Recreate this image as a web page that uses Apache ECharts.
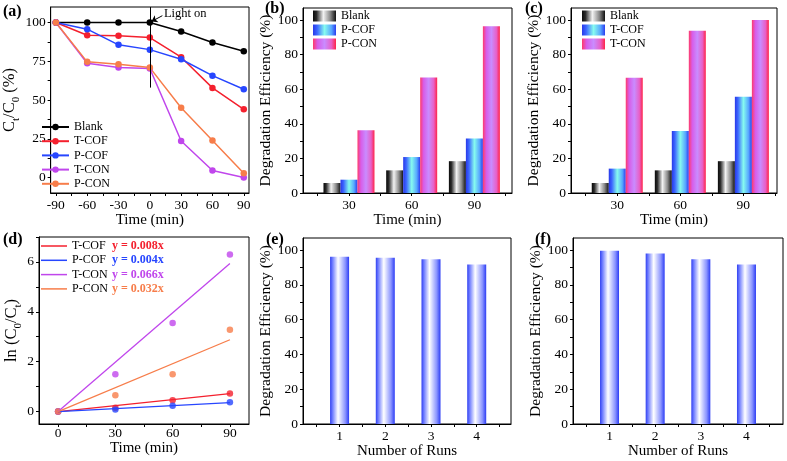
<!DOCTYPE html>
<html><head><meta charset="utf-8">
<script src="https://cdn.jsdelivr.net/npm/echarts@6/dist/echarts.min.js"></script>
<style>html,body{margin:0;padding:0;background:#fff}#c{width:787px;height:461px}</style>
</head><body><div id="c"></div>
<script>
// ---------- data ----------
// (a) Ct/C0 (%) vs time
const timeA = [-90, -60, -30, 0, 30, 60, 90];
const blankA = [100, 100, 100, 100, 94.2, 87.1, 81.4];
const tcofA  = [100, 91.8, 91.4, 90.3, 77.6, 57.8, 44.0];
const pcofA  = [100, 95.7, 85.6, 82.5, 76.3, 65.7, 56.9];
const tconA  = [100, 73.7, 70.9, 70.3, 23.5, 4.5, 0.0];
const pconA  = [100, 74.6, 73.1, 70.9, 45.0, 23.9, 2.8];
const xLabelsA = [-90, -60, -30, 0, 30, 60, 90];
const xTicksA = [-90, -75, -60, -45, -30, -15, 0, 15, 30, 45, 60, 75, 90];
const yLabelsA = [0, 25, 50, 75, 100];
const yTicksA = [0, 12.5, 25, 37.5, 50, 62.5, 75, 87.5, 100];
const lightOnX = 0;
const lightLineBottom = 58;
const lightText = 'Light on';

// (b) degradation efficiency
const timeB = [30, 60, 90];
const blankB = [5.8, 13.1, 18.4];
const pcofB  = [7.7, 20.8, 31.5];
const pconB  = [36.3, 66.8, 96.5];
// (c)
const blankC = [5.8, 13.1, 18.4];
const tcofC  = [14.1, 35.9, 55.6];
const tconC  = [66.6, 93.8, 100.0];
const xLabelsBC = [30, 60, 90];
const xTicksBC = [15, 30, 45, 60, 75, 90, 105];
const yLabelsEff = [0, 20, 40, 60, 80, 100];
const yTicksEff = [0, 10, 20, 30, 40, 50, 60, 70, 80, 90, 100];

// (d) ln(C0/Ct)
const timeD = [0, 30, 60, 90];
const tcofD = [0, 0.15, 0.45, 0.72];
const pcofD = [0, 0.08, 0.23, 0.37];
const tconD = [0, 1.50, 3.55, 6.30];
const pconD = [0, 0.65, 1.50, 3.28];
const fitX = [0, 90];
const tcofFit = [0, 0.72];
const pcofFit = [0, 0.36];
const tconFit = [0, 5.94];
const pconFit = [0, 2.88];
const slopes = ['0.008', '0.004', '0.066', '0.032'];
const xLabelsD = [0, 30, 60, 90];
const xTicksD = [0, 15, 30, 45, 60, 75, 90];
const yLabelsD = [0, 2, 4, 6];
const yTicksD = [0, 1, 2, 3, 4, 5, 6, 7];

// (e),(f) recycling runs
const runs = [1, 2, 3, 4];
const runsE = [96.2, 95.6, 94.8, 91.8];
const runsF = [99.6, 98.1, 94.8, 91.8];
const xLabelsEF = [1, 2, 3, 4];
const xTicksEF = [0.5, 1, 1.5, 2, 2.5, 3, 3.5, 4, 4.5];

// ---------- style ----------
const FONT = '"Liberation Serif", "Times New Roman", serif';
const C = { blank: '#000000', tcof: '#f4202e', pcof: '#2746ff', tcon: '#c046ec', pcon: '#f77d4a' };
const strip = n => n.slice(n.indexOf(':') + 1);
const zip = (xs, ys) => xs.map((x, i) => [x, ys[i]]);
const grad = stops => ({ type: 'linear', x: 0, y: 0, x2: 1, y2: 0, colorStops: stops.map(s => ({ offset: s[0], color: s[1] })) });
const gBlank = grad([[0, '#0a0a0a'], [0.15, '#2a2a2a'], [0.45, '#f2f2f2'], [0.75, '#8a8a8a'], [1, '#111111']]);
const gCOF = grad([[0, '#2838e8'], [0.18, '#3c66ff'], [0.5, '#86fbef'], [0.8, '#58a8ff'], [1, '#2a3cf0']]);
const gCON = grad([[0, '#ff3a6a'], [0.2, '#d85ce8'], [0.5, '#c98cff'], [0.8, '#e860c8'], [1, '#ff2448']]);
const gRun = grad([[0, '#3040f0'], [0.12, '#6a78ff'], [0.42, '#ffffff'], [0.8, '#8a94ff'], [1, '#2c3cf4']]);

function xAx(grid, min, max, labels, ticks, name, nameGap, margin) {
  return {
    type: 'value', gridIndex: grid, min, max, name, nameLocation: 'middle', nameGap,
    nameTextStyle: { fontFamily: FONT, fontSize: 15, color: '#000' },
    axisLine: { show: true, onZero: false, lineStyle: { color: '#000', width: 1 } },
    axisTick: { show: true, customValues: ticks, length: 3, lineStyle: { color: '#000' } },
    axisLabel: { customValues: labels, margin, fontFamily: FONT, fontSize: 13.5, color: '#000' },
    splitLine: { show: false }
  };
}
function yAx(grid, min, max, labels, ticks, name, nameGap, rich) {
  return {
    type: 'value', gridIndex: grid, min, max, name, nameLocation: 'middle', nameGap,
    nameTextStyle: { fontFamily: FONT, fontSize: 15.5, color: '#000', rich: rich },
    axisLine: { show: true, onZero: false, lineStyle: { color: '#000', width: 1 } },
    axisTick: { show: true, customValues: ticks, length: 3, lineStyle: { color: '#000' } },
    axisLabel: { customValues: labels, margin: 5, fontFamily: FONT, fontSize: 13.5, color: '#000' },
    splitLine: { show: false }
  };
}
const subRich = {
  m: { fontFamily: FONT, fontSize: 16.5, color: '#000', lineHeight: 24, verticalAlign: 'middle' },
  s: { fontFamily: FONT, fontSize: 11, color: '#000', verticalAlign: 'bottom' }
};
const gridBox = p => Object.assign({ show: true, borderColor: '#000', borderWidth: 1, backgroundColor: 'transparent' }, p);
const legText = { fontFamily: FONT, fontSize: 12, color: '#000' };

function lineA(name, ys, color, extra) {
  return Object.assign({
    type: 'line', name: 'a:' + name, xAxisIndex: 0, yAxisIndex: 0, data: zip(timeA, ys),
    symbol: 'circle', symbolSize: 6.5, color, lineStyle: { width: 1.5, color }, itemStyle: { color }
  }, extra || {});
}
function barS(prefix, name, xs, ys, gi, g, w) {
  return {
    type: 'bar', name: prefix + ':' + name, xAxisIndex: gi, yAxisIndex: gi, data: zip(xs, ys),
    barWidth: w, barGap: '0%', itemStyle: { color: g }
  };
}
function fitS(name, ys, color) {
  return {
    type: 'line', name: 'd:' + name, xAxisIndex: 3, yAxisIndex: 3, data: zip(fitX, ys),
    symbol: 'none', showSymbol: false, color, lineStyle: { width: 1.3, color }, itemStyle: { color }
  };
}
function ptS(name, ys, color) {
  return {
    type: 'scatter', name: 'dp:' + name, xAxisIndex: 3, yAxisIndex: 3, data: zip(timeD, ys),
    symbol: 'circle', symbolSize: 6.5, itemStyle: { color }
  };
}

const dNames = ['T-COF', 'P-COF', 'T-CON', 'P-CON'];
const dColors = [C.tcof, C.pcof, C.tcon, C.pcon];
const dRich = { n: { width: 40, fontFamily: FONT, fontSize: 12, color: '#000' } };
dColors.forEach((c, i) => { dRich['e' + i] = { fontFamily: FONT, fontSize: 12, fontWeight: 'bold', color: c }; });

const panelTitle = (t, left, top) => ({ text: t, left, top, padding: 0, textStyle: { fontFamily: FONT, fontSize: 16, fontWeight: 'bold', color: '#000' } });

const option = {
  animation: false,
  backgroundColor: '#fff',
  title: [
    panelTitle('(a)', 3, 4), panelTitle('(b)', 265, 1), panelTitle('(c)', 525, 1),
    panelTitle('(d)', 3, 232), panelTitle('(e)', 266, 232), panelTitle('(f)', 535, 232)
  ],
  grid: [
    gridBox({ left: 39, top: 7, width: 210, height: 186 }),
    gridBox({ left: 303, top: 8, width: 209, height: 185 }),
    gridBox({ left: 571, top: 8, width: 206, height: 185 }),
    gridBox({ left: 39, top: 237, width: 210, height: 187 }),
    gridBox({ left: 303, top: 238, width: 208, height: 186 }),
    gridBox({ left: 573, top: 238, width: 210, height: 186 })
  ],
  xAxis: [
    xAx(0, -95, 95, xLabelsA, xTicksA, 'Time (min)', 19, 5),
    xAx(1, 8, 108, xLabelsBC, xTicksBC, 'Time (min)', 18, 5),
    xAx(2, 8, 106, xLabelsBC, xTicksBC, 'Time (min)', 18, 5),
    xAx(3, -10, 100, xLabelsD, xTicksD, 'Time (min)', 15, 2),
    xAx(4, 0.2, 4.75, xLabelsEF, xTicksEF, 'Number of Runs', 20, 5),
    xAx(5, 0.2, 4.8, xLabelsEF, xTicksEF, 'Number of Runs', 20, 5)
  ],
  yAxis: [
    yAx(0, -10, 110, yLabelsA, yTicksA, '{m|C}{s|t}{m|/C}{s|0}{m| (%)}', 22, subRich),
    yAx(1, 0, 107, yLabelsEff, yTicksEff, 'Degradation Efficiency (%)', 15),
    yAx(2, 0, 107, yLabelsEff, yTicksEff, 'Degradation Efficiency (%)', 23),
    yAx(3, -0.5, 7, yLabelsD, yTicksD, '{m|ln (C}{s|0}{m|/C}{s|t}{m|)}', 12, subRich),
    yAx(4, 0, 107, yLabelsEff, yTicksEff, 'Degradation Efficiency (%)', 21),
    yAx(5, 0, 107, yLabelsEff, yTicksEff, 'Degradation Efficiency (%)', 21)
  ],
  legend: [
    { data: ['a:Blank', 'a:T-COF', 'a:P-COF', 'a:T-CON', 'a:P-CON'], formatter: strip, orient: 'vertical',
      left: 41, top: 121, itemWidth: 27, itemHeight: 8, itemGap: 2.2, selectedMode: false, textStyle: legText, padding: 0 },
    { data: ['b:Blank', 'b:P-COF', 'b:P-CON'], formatter: strip, orient: 'vertical', icon: 'rect',
      left: 313, top: 10, itemWidth: 23, itemHeight: 11, itemGap: 2, selectedMode: false, textStyle: legText, padding: 0 },
    { data: ['c:Blank', 'c:T-COF', 'c:T-CON'], formatter: strip, orient: 'vertical', icon: 'rect',
      left: 582, top: 10, itemWidth: 23, itemHeight: 11, itemGap: 2, selectedMode: false, textStyle: legText, padding: 0 },
    { data: dNames.map(n => 'd:' + n), orient: 'vertical', icon: 'rect', left: 41, top: 240, itemWidth: 26, itemHeight: 1.5, itemGap: 2.3,
      selectedMode: false, padding: 0,
      formatter: n => { const i = dNames.indexOf(strip(n)); return '{n|' + strip(n) + '}{e' + i + '|y = ' + slopes[i] + 'x}'; },
      textStyle: { fontFamily: FONT, fontSize: 12, color: '#000', rich: dRich } }
  ],
  series: [
    lineA('Blank', blankA, C.blank, {
      markLine: {
        silent: true, symbol: ['none', 'none'], label: { show: false },
        lineStyle: { color: '#000', width: 1, type: 'solid' },
        data: [
          [{ coord: [lightOnX, lightLineBottom] }, { coord: [lightOnX, 110] }],
          [{ coord: [lightOnX + 12, 104.4] }, { coord: [lightOnX + 1.5, 100.6], symbol: 'arrow', symbolSize: 6 }]
        ]
      },
      markPoint: {
        silent: true, symbol: 'circle', symbolSize: 0,
        label: { show: true, position: 'right', distance: 0, formatter: lightText, fontFamily: FONT, fontSize: 12.5, color: '#000' },
        data: [{ coord: [lightOnX + 13.5, 105.8] }]
      }
    }),
    lineA('T-COF', tcofA, C.tcof),
    lineA('P-COF', pcofA, C.pcof),
    lineA('T-CON', tconA, C.tcon),
    lineA('P-CON', pconA, C.pcon),

    barS('b', 'Blank', timeB, blankB, 1, gBlank, 17),
    barS('b', 'P-COF', timeB, pcofB, 1, gCOF, 17),
    barS('b', 'P-CON', timeB, pconB, 1, gCON, 17),

    barS('c', 'Blank', timeB, blankC, 2, gBlank, 17),
    barS('c', 'T-COF', timeB, tcofC, 2, gCOF, 17),
    barS('c', 'T-CON', timeB, tconC, 2, gCON, 17),

    fitS('T-COF', tcofFit, C.tcof), fitS('P-COF', pcofFit, C.pcof),
    fitS('T-CON', tconFit, C.tcon), fitS('P-CON', pconFit, C.pcon),
    ptS('T-COF', tcofD, C.tcof), ptS('P-COF', pcofD, C.pcof),
    ptS('T-CON', tconD, C.tcon), ptS('P-CON', pconD, C.pcon),

    barS('e', 'Runs', runs, runsE, 4, gRun, 19),
    barS('f', 'Runs', runs, runsF, 5, gRun, 19)
  ]
};
const chart = echarts.init(document.getElementById('c'), null, { renderer: 'canvas' });
chart.setOption(option);
</script>
</body></html>
